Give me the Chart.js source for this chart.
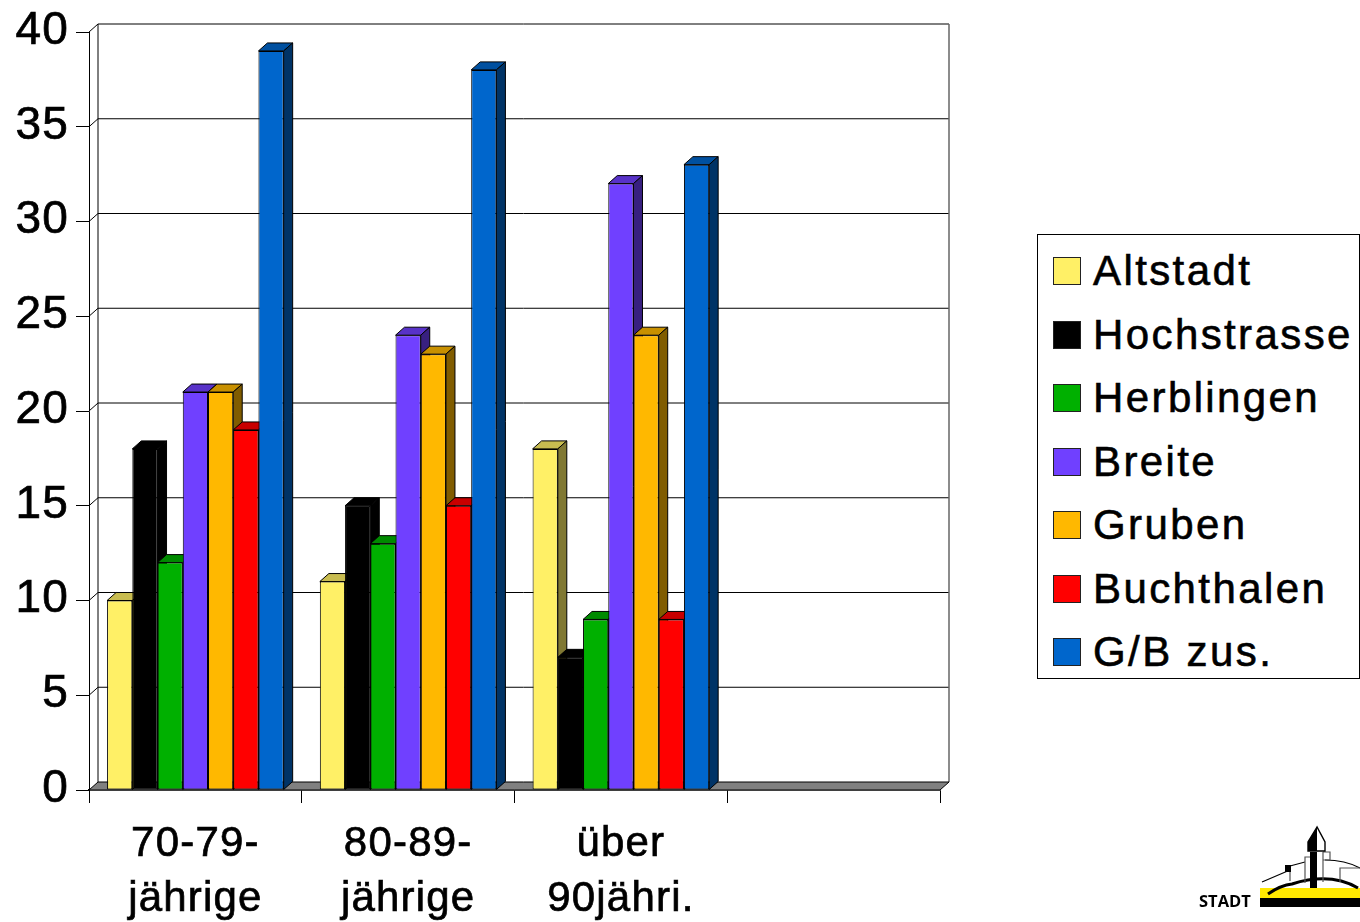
<!DOCTYPE html>
<html lang="de">
<head>
<meta charset="utf-8">
<title>Altersgruppen nach Quartier</title>
<script src="https://cdn.jsdelivr.net/npm/chart.js@4"></script>
<style>
  html, body { margin: 0; padding: 0; background: #fff; overflow: hidden; }
  #wrap { position: relative; width: 1360px; height: 922px; }
  #chart { position: absolute; left: 0; top: 0; }
  #legend { position: absolute; left: 1037px; top: 234px; width: 321px; height: 443px; border: 1px solid #000; background: #fff; box-sizing: content-box; }
  .row { position: absolute; left: 15px; height: 42px; font: 42px/42px "Liberation Sans", Arial, sans-serif; letter-spacing: 2.4px; -webkit-text-stroke: 0.6px #000; white-space: nowrap; color: #000; }
  .row i { position: absolute; left: 0; top: 7px; width: 26px; height: 26px; border: 1px solid #222; box-sizing: content-box; -webkit-text-stroke: 0; }
  .row span { position: absolute; left: 40px; top: 0; }
  #logo { position: absolute; left: 0; top: 0; }
</style>
</head>
<body>
<div id="wrap">
  <canvas id="chart" width="1360" height="922"></canvas>
  <div id="legend"></div>
  <svg id="logo" width="1360" height="922" viewBox="0 0 1360 922">
    <path d="M1260 888H1360V898H1260Z" fill="#ffe800"/>
    <path d="M1260 898H1360V907H1260Z" fill="#000"/>
    <path d="M1268 894Q1281 885 1292 884Q1330 872 1358 888" fill="none" stroke="#000" stroke-width="3"/>
    <path d="M1262 882L1290 870M1290 866L1305 862M1325 860Q1345 860 1360 868" fill="none" stroke="#000" stroke-width="1.2"/>
    <path d="M1290 871V881M1305 883V857H1310M1323 882V852M1323 860H1330V852H1323M1340 882V868H1360" fill="none" stroke="#555" stroke-width="1.2"/>
    <path d="M1310 852H1317V888H1310Z" fill="#000"/>
    <path d="M1285 865H1291V872H1285Z" fill="#000"/>
    <path d="M1317 827L1308 842V851H1325V842Z" fill="#fff" stroke="#000" stroke-width="1.4"/>
    <path d="M1317 827L1308 842V851H1317Z" fill="#000"/>
    <text x="1199" y="907" font-family="'Open Sans', sans-serif" font-weight="700" font-size="16.5">STADT</text>
  </svg>
</div>
<script>
const categories = [['70-79-', 'jährige'], ['80-89-', 'jährige'], ['über', '90jähri.'], ''];
const seriesNames = ['Altstadt', 'Hochstrasse', 'Herblingen', 'Breite', 'Gruben', 'Buchthalen', 'G/B zus.'];
const altstadt = [10, 11, 18];
const hochstrasse = [18, 15, 7];
const herblingen = [12, 13, 9];
const breite = [21, 24, 32];
const gruben = [21, 23, 24];
const buchthalen = [19, 15, 9];
const gbZus = [39, 38, 33];
const seriesValues = [altstadt, hochstrasse, herblingen, breite, gruben, buchthalen, gbZus];
const seriesColors = ['#fff066', '#000000', '#00b000', '#7040ff', '#ffb800', '#ff0000', '#0066cc'];
const topColors = ['#c8bc50', '#000000', '#008a00', '#5832c8', '#c89000', '#c80000', '#0050a0'];
const sideColors = ['#807833', '#000000', '#005800', '#382080', '#805c00', '#800000', '#003366'];

const depthX = 9;
const depthY = 8;
const fontName = '"Liberation Sans", Arial, sans-serif';

function poly(ctx, pts, fill, stroke) {
    ctx.beginPath();
    ctx.moveTo(pts[0][0], pts[0][1]);
    for (let i = 1; i < pts.length; i++) ctx.lineTo(pts[i][0], pts[i][1]);
    ctx.closePath();
    if (fill) { ctx.fillStyle = fill; ctx.fill(); }
    if (stroke) { ctx.strokeStyle = stroke; ctx.lineWidth = 1; ctx.stroke(); }
}

// back wall, side wall and floor of the 3d box
function drawWalls(chart) {
    const { ctx, chartArea: a, scales: { y } } = chart;
    ctx.save();
    ctx.strokeStyle = '#000';
    ctx.lineWidth = 1;
    y.ticks.forEach(t => {
        const py = y.getPixelForValue(t.value);
        if (t.value === 0) return;
        ctx.beginPath();
        ctx.moveTo(a.left, py);
        ctx.lineTo(a.left + depthX, py - depthY);
        ctx.lineTo(a.right + depthX, py - depthY);
        ctx.stroke();
    });
    ctx.beginPath();
    ctx.moveTo(a.left + depthX, a.bottom - depthY);
    ctx.lineTo(a.left + depthX, a.top - depthY);
    ctx.stroke();
    ctx.strokeStyle = '#666';
    ctx.lineWidth = 1.5;
    ctx.beginPath();
    ctx.moveTo(a.right + depthX, a.top - depthY);
    ctx.lineTo(a.right + depthX, a.bottom - depthY);
    ctx.stroke();
    poly(ctx, [[a.left, a.bottom], [a.left + depthX, a.bottom - depthY], [a.right + depthX, a.bottom - depthY], [a.right, a.bottom]], '#808080', '#000');
    ctx.restore();
}

// top and side faces of each bar, painted just before the bar front
function drawDepth(chart, i) {
    const ctx = chart.ctx;
    ctx.save();
    chart.getDatasetMeta(i).data.forEach(el => {
        const l = el.x - el.width / 2;
        const r = el.x + el.width / 2;
        poly(ctx, [[l, el.y], [l + depthX, el.y - depthY], [r + depthX, el.y - depthY], [r, el.y]], topColors[i], '#000');
        poly(ctx, [[r, el.y], [r + depthX, el.y - depthY], [r + depthX, el.base - depthY], [r, el.base]], sideColors[i], '#000');
    });
    ctx.restore();
}

// chart.js paints the first dataset last, the 3d look needs left to right
const box3dPlugin = {
    id: 'box3d',
    beforeDatasetsDraw(chart) {
        drawWalls(chart);
        seriesNames.forEach((name, i) => {
            drawDepth(chart, i);
            chart.getDatasetMeta(i).controller.draw();
        });
    },
    beforeDatasetDraw() { return false; }
};

const spacingPlugin = {
    id: 'spacing',
    beforeDraw(chart) { chart.ctx.letterSpacing = '1.2px'; }
};

new Chart(document.getElementById('chart').getContext('2d'), {
    type: 'bar',
    data: {
        labels: categories,
        datasets: seriesNames.map((name, i) => ({
            label: name,
            data: seriesValues[i],
            backgroundColor: seriesColors[i],
            borderColor: '#000',
            borderWidth: 1,
            borderSkipped: false
        }))
    },
    options: {
        responsive: false,
        animation: false,
        devicePixelRatio: 1,
        layout: { padding: { top: 32, right: 420, left: 0, bottom: 0 } },
        categoryPercentage: 0.83,
        barPercentage: 1,
        plugins: { legend: { display: false }, tooltip: { enabled: false } },
        scales: {
            x: {
                afterFit(scale) { scale.height = 132; scale.paddingLeft = 0; scale.paddingRight = 0; },
                grid: { drawOnChartArea: false, color: '#000', tickLength: 13, lineWidth: 1 },
                border: { color: '#000', width: 1.5 },
                ticks: {
                    color: '#000',
                    maxRotation: 0,
                    autoSkip: false,
                    padding: 13,
                    textStrokeColor: '#000',
                    textStrokeWidth: 0.7,
                    font: { family: fontName, size: 42, lineHeight: 1.33 }
                }
            },
            y: {
                min: 0,
                max: 40,
                afterFit(scale) { scale.width = 89; scale.paddingTop = 0; scale.paddingBottom = 0; },
                grid: { drawOnChartArea: false, color: '#000', tickLength: 13, lineWidth: 1 },
                border: { color: '#000', width: 1 },
                ticks: {
                    stepSize: 5,
                    color: '#000',
                    padding: 7,
                    textStrokeColor: '#000',
                    textStrokeWidth: 0.7,
                    // blank second line lifts the digits a little above the tick
                    callback: value => [String(value), ''],
                    font: { family: fontName, size: 46, lineHeight: 0.04 }
                }
            }
        }
    },
    plugins: [spacingPlugin, box3dPlugin]
});

// html legend, built from the series arrays
const legendBox = document.getElementById('legend');
seriesNames.forEach((name, i) => {
    const row = document.createElement('div');
    row.className = 'row';
    row.style.top = (15 + i * 63.5) + 'px';
    const swatch = document.createElement('i');
    swatch.style.background = seriesColors[i];
    const text = document.createElement('span');
    text.textContent = name;
    row.appendChild(swatch);
    row.appendChild(text);
    legendBox.appendChild(row);
});
</script>
</body>
</html>
